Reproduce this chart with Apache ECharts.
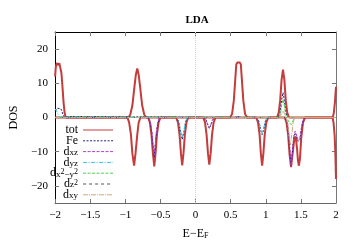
<!DOCTYPE html>
<html><head><meta charset="utf-8">
<script src="https://cdn.jsdelivr.net/npm/echarts@6/dist/echarts.min.js"></script>
<style>html,body{margin:0;padding:0;background:#fff}#c{width:356px;height:249px}</style>
</head><body><div id="c"></div>
<script>
// ---- tick labels ----
const xTicks = [-2, -1.5, -1, -0.5, 0, 0.5, 1, 1.5, 2];
const yTicks = [-20, -10, 0, 10, 20];

// ---- tot (spin up / spin down) ----
const totUpE = [-2, -1.99, -1.975, -1.96, -1.95, -1.94, -1.925, -1.91, -1.895, -1.88, -1.865, -1.85,
  -0.96, -0.93, -0.90, -0.87, -0.85, -0.83, -0.81, -0.79, -0.76, -0.73, -0.70,
  0.49, 0.52, 0.545, 0.565, 0.58, 0.595, 0.612, 0.63, 0.645, 0.66, 0.68, 0.705, 0.735,
  1.16, 1.185, 1.205, 1.225, 1.245, 1.265, 1.285, 1.305, 1.33,
  1.955, 1.97, 1.985, 2];
const totUpV = [12, 14.8, 15.9, 15.9, 15.3, 15.9, 15.7, 13, 9, 4.5, 1.5, 0,
  0, 0.8, 3.5, 9, 12.5, 14.3, 12.5, 9, 3.5, 0.8, 0,
  0, 1, 5, 11, 15.5, 16.1, 15.6, 16.1, 15.5, 11, 5, 1, 0,
  0, 1.5, 5, 11, 14, 11, 5, 1.5, 0,
  0, 1.5, 4.5, 9];
const totDnE = [-2, -0.97, -0.945, -0.92, -0.9, -0.875, -0.855, -0.83, -0.81, -0.785,
  -0.675, -0.65, -0.628, -0.607, -0.588, -0.57, -0.55, -0.527, -0.50,
  -0.275, -0.25, -0.228, -0.208, -0.19, -0.172, -0.152, -0.13, -0.105,
  0.11, 0.135, 0.157, 0.177, 0.196, 0.215, 0.235, 0.257, 0.285,
  0.865, 0.89, 0.912, 0.93, 0.948, 0.966, 0.985, 1.007, 1.035,
  1.27, 1.295, 1.318, 1.34, 1.36, 1.38, 1.405, 1.425, 1.445, 1.458, 1.472, 1.487, 1.505, 1.53, 1.56,
  1.95, 1.965, 1.98, 1.99, 2];
const totDnV = [0, 0, -1.5, -5, -10.5, -14.1, -10.5, -5, -1.5, 0,
  0, -1.5, -5, -10.5, -14.3, -10.5, -5, -1.5, 0,
  0, -1.5, -5, -10.5, -14, -10.5, -5, -1.5, 0,
  0, -1.5, -5, -10.5, -13.8, -10.5, -5, -1.5, 0,
  0, -1.5, -5, -10.5, -14.1, -10.5, -5, -1.5, 0,
  0, -1.5, -5, -11, -14.5, -11, -6.5, -5.5, -9, -12.5, -14.1, -12, -6, -1.5, 0,
  0, -1.5, -5, -10, -18];

// ---- Fe ----
const feUpE = [-2, -1.99, -1.97, -1.945, -1.92, -1.905, -1.89, -1.875, -1.86, 0.56, 0.6, 0.64,
  1.18, 1.205, 1.225, 1.245, 1.265, 1.285, 1.31, 2];
const feUpV = [2, 2.5, 2.7, 2.6, 2.6, 2, 1, 0.3, 0, 0, 0.3, 0,
  0, 1.5, 5, 7.3, 5, 1.5, 0, 0];
const feDnE = [-2, -0.67, -0.645, -0.623, -0.605, -0.59, -0.575, -0.557, -0.535, -0.51,
  -0.27, -0.24, -0.215, -0.19, -0.165, -0.14, -0.11,
  0.12, 0.15, 0.175, 0.196, 0.218, 0.243, 0.27,
  0.87, 0.9, 0.925, 0.948, 0.971, 0.996, 1.025,
  1.28, 1.305, 1.325, 1.343, 1.36, 1.378, 1.4, 1.42, 1.44, 1.458, 1.472, 1.487, 1.505, 1.53, 1.55, 2];
const feDnV = [0, 0, -1.5, -4.5, -8.5, -11.5, -8.5, -4.5, -1.5, 0,
  0, -1.2, -4, -6.5, -4, -1.2, 0,
  0, -0.8, -2.2, -3.2, -2.2, -0.8, 0,
  0, -1, -3.5, -5, -3.5, -1, 0,
  0, -1.5, -5, -10.5, -14, -10.5, -5.5, -4.5, -5.5, -7, -7.5, -6.5, -3.5, -1, 0, 0];

// ---- d_xz ----
const dxzUpE = [-2, 0.57, 0.61, 0.65, 2];
const dxzUpV = [0, 0, 0.3, 0, 0];
const dxzDnE = [-2, -0.665, -0.64, -0.62, -0.603, -0.59, -0.577, -0.56, -0.54, -0.515,
  0.125, 0.152, 0.176, 0.196, 0.216, 0.24, 0.267,
  1.285, 1.31, 1.33, 1.346, 1.362, 1.378, 1.398, 1.418, 1.438, 1.455, 1.47, 1.485, 1.503, 1.528, 1.55, 2];
const dxzDnV = [0, 0, -1.5, -4.5, -8.5, -11, -8.5, -4.5, -1.5, 0,
  0, -0.8, -2.2, -3, -2.2, -0.8, 0,
  0, -1.5, -5, -10.5, -14.2, -10.5, -5.5, -4, -5, -6.5, -7, -6, -3.5, -1, 0, 0];

// ---- d_yz ----
const dyzUpE = [-2, -1.985, -1.97, -1.955, -1.94, -1.925, 2];
const dyzUpV = [2.5, 2.3, 1.6, 0.8, 0.2, 0, 0];
const dyzDnE = [-2, -0.265, -0.24, -0.215, -0.19, -0.165, -0.14, -0.115,
  0.875, 0.9, 0.925, 0.948, 0.971, 0.996, 1.02, 2];
const dyzDnV = [0, 0, -1, -3.8, -6, -3.8, -1, 0,
  0, -0.8, -3, -4.7, -3, -0.8, 0, 0];

// ---- d_x2-y2 ----
const dx2UpE = [-2, 1.185, 1.21, 1.228, 1.245, 1.262, 1.28, 1.305, 2];
const dx2UpV = [0, 0, 1.2, 3.8, 5.3, 3.8, 1.2, 0, 0];
const dx2DnE = [-2, 1.3, 1.32, 1.34, 1.355, 1.37, 1.39, 1.41, 2];
const dx2DnV = [0, 0, -0.8, -1.8, -2.2, -2, -0.8, 0, 0];

// ---- d_z2 ----
const dz2UpE = [-2, 2];
const dz2UpV = [0, 0];
const dz2DnE = [-2, 2];
const dz2DnV = [0, 0];

// ---- d_xy ----
const dxyUpE = [-2, 1.2, 1.225, 1.245, 1.265, 1.29, 2];
const dxyUpV = [0, 0, 1.2, 1.9, 1.2, 0, 0];
const dxyDnE = [-2, 1.29, 1.31, 1.33, 1.35, 1.37, 1.39, 1.41, 2];
const dxyDnV = [0, 0, -1.5, -5, -8, -5, -1.5, 0, 0];

const pairs = (E, V) => E.map((e, i) => [e, V[i]]);
const SERIF = "'Liberation Serif', 'DejaVu Serif', serif";

const comps = [
  {name: 'tot', up: [totUpE, totUpV], dn: [totDnE, totDnV], color: '#c43c3c', width: 2, type: 'solid'},
  {name: 'Fe', up: [feUpE, feUpV], dn: [feDnE, feDnV], color: '#20207a', width: 1, type: [2, 1.5]},
  {name: 'dxz', up: [dxzUpE, dxzUpV], dn: [dxzDnE, dxzDnV], color: '#b040c8', width: 1, type: [3, 1.5]},
  {name: 'dyz', up: [dyzUpE, dyzUpV], dn: [dyzDnE, dyzDnV], color: '#30c8e0', width: 1, type: [4, 1.5, 1, 1.5]},
  {name: 'dx2y2', up: [dx2UpE, dx2UpV], dn: [dx2DnE, dx2DnV], color: '#50d050', width: 1, type: [3, 1.5]},
  {name: 'dz2', up: [dz2UpE, dz2UpV], dn: [dz2DnE, dz2DnV], color: '#555555', width: 1, type: [3, 3]},
  {name: 'dxy', up: [dxyUpE, dxyUpV], dn: [dxyDnE, dxyDnV], color: '#d0a878', width: 1, type: [5, 1, 1, 1]}
];

const legendText = {
  tot: '{n|tot}', Fe: '{n|Fe}', dxz: '{n|d}{s|xz}', dyz: '{n|d}{s|yz}',
  dx2y2: '{n|d}{s|x}{p|2}{s|−y}{p|2}', dz2: '{n|d}{s|z}{p|2}', dxy: '{n|d}{s|xy}'
};

const series = [];
comps.forEach((c, ci) => {
  ['up', 'dn'].forEach(k => {
    const s = {
      name: c.name, type: 'line', xAxisIndex: 0, yAxisIndex: 0,
      data: pairs(c[k][0], c[k][1]), symbol: 'none', smooth: false,
      lineStyle: {color: c.color, width: c.width, type: c.type},
      itemStyle: {color: c.color}, z: 2 + ci, animation: false
    };
    if (ci === 0 && k === 'up') {
      s.markLine = {silent: true, symbol: 'none', label: {show: false}, animation: false,
        lineStyle: {color: '#d0d0d0', type: 'dotted', width: 1}, data: [{xAxis: 0}]};
    }
    series.push(s);
  });
});

const fmtNum = v => (v < 0 ? '−' : '') + Math.abs(v);
const tickStyle = {inside: true, length: 4, lineStyle: {color: '#777'}};

const chart = echarts.init(document.getElementById('c'), null, {renderer: 'canvas'});
chart.setOption({
  backgroundColor: '#fff',
  animation: false,
  title: {text: 'LDA', left: 192, top: 10, textAlign: 'center',
    textStyle: {fontFamily: SERIF, fontSize: 11, fontWeight: 'bold', color: '#000'}},
  grid: {left: 47, right: 20, top: 32, bottom: 46, containLabel: false},
  legend: {
    orient: 'vertical', left: 45, top: 119, align: 'right', itemWidth: 30, itemHeight: 11, itemGap: -1.2,
    data: comps.map(c => c.name), selectedMode: false,
    itemStyle: {opacity: 0},
    lineStyle: {width: 1},
    formatter: n => legendText[n],
    textStyle: {color: '#000', rich: {
      n: {fontFamily: SERIF, fontSize: 12, lineHeight: 11, color: '#000'},
      s: {fontFamily: SERIF, fontSize: 9, lineHeight: 5, verticalAlign: 'bottom', color: '#000'},
      p: {fontFamily: SERIF, fontSize: 8, lineHeight: 5, verticalAlign: 'top', color: '#000'}
    }}
  },
  xAxis: [
    {type: 'value', min: -2, max: 2, interval: 0.5, position: 'bottom',
      name: '{n|E−E}{s|F}', nameLocation: 'middle', nameGap: 25,
      nameTextStyle: {rich: {
        n: {fontFamily: SERIF, fontSize: 12, lineHeight: 12, color: '#000'},
        s: {fontFamily: SERIF, fontSize: 8, lineHeight: 5, verticalAlign: 'bottom', color: '#000'}}},
      axisLine: {onZero: false, lineStyle: {color: '#666'}},
      axisTick: tickStyle, splitLine: {show: false},
      axisLabel: {fontFamily: SERIF, fontSize: 11, color: '#000', margin: 7, formatter: fmtNum,
        customValues: xTicks},
    },
    {type: 'value', min: -2, max: 2, interval: 0.5, position: 'top',
      axisLine: {onZero: false, lineStyle: {color: '#000'}},
      axisTick: tickStyle, axisLabel: {show: false}, splitLine: {show: false}}
  ],
  yAxis: [
    {type: 'value', min: -25, max: 25, interval: 5, position: 'left',
      name: 'DOS', nameLocation: 'middle', nameGap: 34,
      nameTextStyle: {fontFamily: SERIF, fontSize: 12, color: '#000'},
      axisLine: {show: true, onZero: false, lineStyle: {color: '#000'}},
      axisTick: Object.assign({customValues: yTicks}, tickStyle), splitLine: {show: false},
      axisLabel: {fontFamily: SERIF, fontSize: 11, color: '#000', margin: 7, formatter: fmtNum,
        customValues: yTicks}
    },
    {type: 'value', min: -25, max: 25, interval: 5, position: 'right',
      axisLine: {show: true, onZero: false, lineStyle: {color: '#777'}},
      axisTick: Object.assign({customValues: yTicks}, tickStyle), axisLabel: {show: false},
      splitLine: {show: false}}
  ],
  series: series
});
</script>
</body></html>
